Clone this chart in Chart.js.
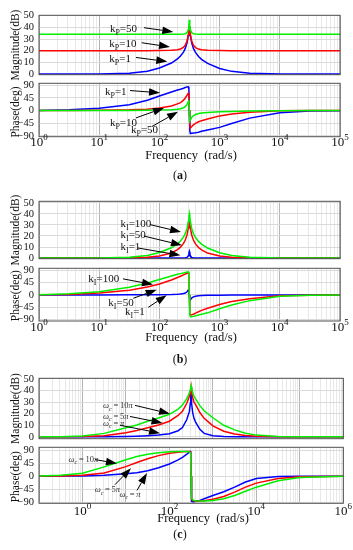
<!DOCTYPE html>
<html>
<head>
<meta charset="utf-8">
<script src="https://cdn.jsdelivr.net/npm/chart.js@4.4.0/dist/chart.umd.min.js"></script>
<style>
  html, body { margin: 0; padding: 0; background: #fff; }
  #page { position: relative; width: 353px; height: 550px; overflow: hidden; }
  canvas { position: absolute; left: 0; }
</style>
</head>
<body>
<div id="page">
  <canvas id="magA" width="353" height="82" style="top:4px"></canvas>
  <canvas id="phA" width="353" height="114" style="top:72px"></canvas>
  <canvas id="magB" width="353" height="80" style="top:190px"></canvas>
  <canvas id="phB" width="353" height="113" style="top:257px"></canvas>
  <canvas id="magC" width="353" height="83" style="top:367px"></canvas>
  <canvas id="phC" width="353" height="114" style="top:436px"></canvas>
</div>
<script>
// frequencies (rad/s) used for panels (a) and (b)
const freqAB = [1, 3.162, 10, 31.62, 63.1, 100, 158.5, 199.5, 223.9, 251.2, 269.2, 288.4, 302, 309, 314.2,
  320, 327, 343, 367, 398.1, 446.7, 501.2, 631, 1000, 1585, 3162, 10000, 31623, 100000];
// frequencies for panel (c)
const freqC = [0.1, 0.3162, 1, 3.162, 10, 17.78, 31.62, 56.23, 100, 158.5, 199.5, 251.2, 288.4, 302, 309, 314.2,
  320, 327, 343, 367, 398.1, 501.2, 631, 1000, 1778, 3162, 5623, 10000, 31623, 100000, 1000000];

// (a) kp varies
const magA_kp1  = [0, 0.01, 0.07, 0.68, 2.34, 5.2, 9.4, 12.9, 15.4, 18.8, 22, 27, 33, 37.5, 40, 37.2, 33, 27, 22, 18.5, 15, 12.6, 9.1, 4.8, 2.3, 0.66, 0.07, 0.01, 0];
const magA_kp10 = [20, 20, 20, 20.01, 20.04, 20.1, 20.36, 20.86, 21.47, 22.86, 24.69, 28.46, 34.06, 38.59, 41, 38.19, 33.97, 28.39, 24.68, 22.64, 21.36, 20.81, 20.35, 20.1, 20.04, 20.01, 20, 20, 20];
const magA_kp50 = [33.98, 33.98, 33.98, 33.98, 33.98, 33.99, 34.01, 34.04, 34.09, 34.24, 34.51, 35.44, 38.18, 41.58, 46.5, 41.25, 38.12, 35.42, 34.51, 34.21, 34.08, 34.04, 34.01, 33.99, 33.98, 33.98, 33.98, 33.98, 33.98];
const phA_kp1  = [0.6, 2.5, 8, 21, 37, 52, 66, 73, 76, 79.5, 82, 84.5, 85, 75, 0, -72, -82, -81, -80, -79, -77, -74, -69, -60, -46, -27, -7.5, -1.5, -0.3];
const phA_kp10 = [0.1, 0.3, 1, 2.5, 5, 9, 16, 24, 28, 37, 45, 55, 62, 52, 0, -50, -62, -58, -51, -46, -40, -36, -30, -19, -12, -6, -1, -0.2, 0];
const phA_kp50 = [0, 0.05, 0.15, 0.5, 1, 1.7, 3.2, 5, 6.7, 10, 14, 22, 32, 38, 0, -37, -33, -25, -18.5, -14, -10.5, -8.5, -6.5, -4.5, -3, -1.5, -0.4, -0.1, 0];

// (b) ki varies
const magB_ki100 = [0, 0.01, 0.07, 0.68, 2.34, 5, 9.3, 12.9, 15.4, 18.9, 22.1, 27.1, 33.2, 37.8, 40.3, 37.4, 33.1, 27, 22.2, 18.6, 15.1, 12.6, 9.1, 4.75, 2.3, 0.66, 0.07, 0.01, 0];
const magB_ki50  = [0, 0, 0.02, 0.18, 0.73, 1.9, 4.6, 7.6, 9.9, 13.25, 16.35, 21.2, 27.3, 31.9, 34, 31.5, 27.2, 21.1, 16.3, 12.8, 9.5, 7.35, 4.5, 1.8, 0.7, 0.18, 0.02, 0, 0];
const magB_ki1   = [0, 0, 0, 0, 0, 0, 0.01, 0.02, 0.04, 0.1, 0.21, 0.61, 2.07, 4.44, 6.02, 4.19, 2.04, 0.6, 0.2, 0.09, 0.04, 0.02, 0.01, 0, 0, 0, 0, 0, 0];
const phB_ki100 = [1, 4, 12, 28, 44, 57, 70, 76, 78.5, 81, 83, 84.5, 85, 78, 0, -72, -80, -80, -79, -77, -74, -71, -66, -51, -37, -21, -5, -1, -0.2];
const phB_ki50  = [0.5, 2, 7, 17, 29, 40, 55, 64, 69, 74, 77, 80, 82, 74, 0, -65, -74, -73, -71, -67, -62, -57, -49, -35, -24, -14, -3, -0.8, -0.2];
const phB_ki1   = [0, 0.04, 0.13, 0.4, 0.5, 0.8, 1.5, 2.4, 3.3, 5, 7.1, 11.7, 18.5, 19, 0, -18, -18.4, -11.6, -7.1, -4.7, -3.2, -2.4, -1.5, -0.8, -0.5, -0.2, -0.07, 0, 0];

// (c) wc varies
const magC_10pi = [0, 0.1, 0.8, 3, 7.8, 10.3, 13.5, 16.3, 19.5, 24, 27.5, 33, 38, 41, 42.8, 44, 43, 41.5, 38.5, 35, 33, 27, 22.5, 16.5, 10, 6, 3.2, 1.5, 0.3, 0.05, 0];
const magC_5pi  = [0, 0, 0.2, 1, 3.5, 5.5, 7.8, 10.3, 13.5, 18.5, 22, 29, 35, 38.5, 41, 43, 41, 38, 34, 30, 28, 21, 16, 9.5, 4.8, 2.5, 1.2, 0.5, 0.1, 0, 0];
const magC_pi   = [0, 0, 0, 0, 0.3, 0.5, 0.9, 1.5, 2.7, 5.3, 8, 15, 22, 29, 35, 42, 35, 29, 21, 16, 13, 6.5, 3, 1, 0.4, 0.1, 0, 0, 0, 0, 0];
const phC_10pi = [0.5, 3, 10, 32, 57, 68, 76, 81, 84, 85, 85, 85, 84, 81, 74, 0, -65, -76, -81, -84, -85, -86, -86, -84, -78, -67, -52, -38, -16, -5, -0.5];
const phC_5pi  = [0.2, 1, 3.5, 11, 33, 47, 60, 71, 79, 83, 84, 85, 85, 84, 79, 0, -68, -80, -84, -86, -86, -86, -85, -80, -70, -55, -38, -24, -8, -2, 0];
const phC_pi   = [0, 0.2, 1, 3, 8, 12, 19, 29, 42, 56, 65, 76, 83, 86, 87, 0, -82, -87, -88, -88, -87, -84, -78, -67, -54, -38, -20, -8, -1, 0, 0];

const magTicks = [0, 10, 20, 30, 40, 50];
const phaseTicks = [-90, -45, 0, 45, 90];

const GREEN = '#00f000', RED = '#ff0000', BLUE = '#0000ff';
const SERIF = '"Liberation Serif", "Times New Roman", serif';

function pts(freq, vals) {
  return freq.map((f, i) => ({ x: f, y: vals[i] }));
}

// grid ticks for a log axis: decades are major, 2..9 are minor
function logTicks(e0, e1) {
  const t = [];
  for (let e = e0; e <= e1; e++) {
    for (let m = 1; m <= 9; m++) {
      if (e === e1 && m > 1) break;
      t.push({ value: m * Math.pow(10, e), major: m === 1 });
    }
  }
  return t;
}

// text with subscripts / italics, parts = [[str, style]], style: n, s, i, is
function richText(ctx, parts, x, y, size, color) {
  ctx.fillStyle = color;
  ctx.textAlign = 'left';
  ctx.textBaseline = 'alphabetic';
  const base = y + size * 0.35;
  let cx = x;
  parts.forEach(([str, st]) => {
    st = st || 'n';
    const sub = st.indexOf('s') >= 0;
    const it = st.indexOf('i') >= 0;
    const sz = sub ? size * 0.72 : size;
    ctx.font = (it ? 'italic ' : '') + sz + 'px ' + SERIF;
    ctx.fillText(str, cx, base + (sub ? size * 0.28 : 0));
    cx += ctx.measureText(str).width;
  });
}

function arrow(ctx, x1, y1, x2, y2) {
  const ang = Math.atan2(y2 - y1, x2 - x1);
  const len = 11, hw = 3.8;
  const bx = x2 - len * Math.cos(ang), by = y2 - len * Math.sin(ang);
  ctx.strokeStyle = '#000';
  ctx.lineWidth = 1;
  ctx.beginPath();
  ctx.moveTo(x1, y1);
  ctx.lineTo(bx, by);
  ctx.stroke();
  ctx.fillStyle = '#000';
  ctx.beginPath();
  ctx.moveTo(x2, y2);
  ctx.lineTo(bx + hw * Math.sin(ang), by - hw * Math.cos(ang));
  ctx.lineTo(bx - hw * Math.sin(ang), by + hw * Math.cos(ang));
  ctx.closePath();
  ctx.fill();
}

const decor = {
  id: 'decor',
  afterDraw(chart, args, o) {
    const { ctx, chartArea: a } = chart;
    const xs = chart.scales.x, ys = chart.scales.y;
    const px = e => xs.getPixelForValue(Math.pow(10, e));
    ctx.save();
    // box round the plot
    ctx.strokeStyle = '#505050';
    ctx.lineWidth = 1;
    ctx.strokeRect(a.left, a.top, a.right - a.left, a.bottom - a.top);

    // y title
    ctx.save();
    ctx.fillStyle = '#111';
    ctx.font = '11.5px ' + SERIF;
    ctx.textAlign = 'center';
    ctx.textBaseline = 'middle';
    ctx.translate(16, (a.top + a.bottom) / 2 + (o.titleDy || 0));
    ctx.rotate(-Math.PI / 2);
    ctx.fillText(o.title, 0, 0);
    ctx.restore();

    // arrows and labels
    (o.notes || []).forEach(n => {
      richText(ctx, n.parts, px(n.at[0]), ys.getPixelForValue(n.at[1]), o.noteSize, o.noteColor);
      arrow(ctx, px(n.from[0]), ys.getPixelForValue(n.from[1]), px(n.to[0]), ys.getPixelForValue(n.to[1]));
    });

    // x tick labels 10^n
    if (o.xExps) {
      ctx.fillStyle = '#111';
      ctx.textBaseline = 'alphabetic';
      ctx.textAlign = 'left';
      o.xExps.forEach(e => {
        ctx.font = '13px ' + SERIF;
        const w1 = ctx.measureText('10').width;
        ctx.font = '9px ' + SERIF;
        const w2 = ctx.measureText(String(e)).width;
        const x0 = px(e) - (w1 + w2) / 2;
        const base = a.bottom + o.xLabelDy;
        ctx.font = '13px ' + SERIF;
        ctx.fillText('10', x0, base);
        ctx.font = '9px ' + SERIF;
        ctx.fillText(String(e), x0 + w1, base - 6);
      });
    }
    if (o.freq) {
      ctx.fillStyle = '#111';
      ctx.font = '12.5px ' + SERIF;
      ctx.textAlign = 'center';
      ctx.textBaseline = 'middle';
      ctx.fillText('Frequency  (rad/s)', o.freq[0], o.freq[1]);
    }
    if (o.letter) {
      ctx.fillStyle = '#111';
      ctx.textBaseline = 'middle';
      ctx.font = '12px ' + SERIF;
      const wl = ctx.measureText('(').width;
      ctx.font = 'bold 12px ' + SERIF;
      const wm = ctx.measureText(o.letter[0]).width;
      ctx.textAlign = 'left';
      const x0 = o.letter[1] - (2 * wl + wm) / 2;
      ctx.font = '12px ' + SERIF;
      ctx.fillText('(', x0, o.letter[2]);
      ctx.font = 'bold 12px ' + SERIF;
      ctx.fillText(o.letter[0], x0 + wl, o.letter[2]);
      ctx.font = '12px ' + SERIF;
      ctx.fillText(')', x0 + wl + wm, o.letter[2]);
    }
    ctx.restore();
  }
};

function makeChart(id, s) {
  return new Chart(document.getElementById(id), {
    type: 'line',
    data: {
      datasets: s.series.map(d => ({
        data: pts(s.freq, d[0]),
        borderColor: d[1],
        borderWidth: 1.5,
        pointRadius: 0,
        fill: false,
        tension: 0
      }))
    },
    options: {
      responsive: false,
      animation: false,
      events: [],
      layout: { padding: { left: 0, right: s.padRight, top: s.padTop, bottom: s.padBottom } },
      plugins: { legend: { display: false }, tooltip: { enabled: false }, decor: s.decor },
      scales: {
        x: {
          type: 'logarithmic',
          min: s.xMin,
          max: s.xMax,
          afterBuildTicks: sc => { sc.ticks = logTicks(s.e0, s.e1); },
          afterFit: sc => { sc.height = 0; },
          ticks: { display: false },
          grid: {
            drawTicks: false,
            color: c => (c.tick && c.tick.major) ? '#b4b4b4' : '#e8e8e8',
            lineWidth: 1
          },
          border: { display: false }
        },
        y: {
          min: s.yMin,
          max: s.yMax,
          afterBuildTicks: sc => { sc.ticks = s.yTicks.map(v => ({ value: v })); },
          afterFit: sc => { sc.width = 39; },
          ticks: {
            autoSkip: false,
            padding: 5,
            color: '#111',
            font: { family: SERIF, size: 10.5 },
            callback: v => v < 0 ? '\u2212' + Math.abs(v) : String(v)
          },
          grid: { drawTicks: false, color: '#dadada' },
          border: { display: false }
        }
      }
    },
    plugins: [decor]
  });
}

const kp = v => [['k'], ['P', 's'], ['=' + v]];
const ki = v => [['k'], ['I', 's'], ['=' + v]];
const wc = v => [['\u03c9', 'i'], ['c', 'is'], ['\u2009=\u2009' + v], ['\u03c0', 'i']];

// panel (a)
makeChart('magA', {
  freq: freqAB, xMin: 1, xMax: 1e5, e0: 0, e1: 5, padRight: 13, padTop: 10, padBottom: 8.7,
  yMin: -0.56, yMax: 50.3, yTicks: magTicks,
  series: [[magA_kp50, GREEN], [magA_kp10, RED], [magA_kp1, BLUE]],
  decor: {
    title: 'Magnitude(dB)', noteSize: 11, noteColor: '#111',
    notes: [
      { at: [1.179, 39.1], parts: kp(50), from: [1.744, 39.7], to: [2.231, 36.1] },
      { at: [1.168, 26.8], parts: kp(10), from: [1.706, 26.8], to: [2.176, 23.2] },
      { at: [1.168, 13.4], parts: kp(1), from: [1.611, 14.2], to: [2.131, 10.7] }
    ]
  }
});
makeChart('phA', {
  freq: freqAB, xMin: 1, xMax: 1e5, e0: 0, e1: 5, padRight: 13, padTop: 8.7, padBottom: 49.3,
  yMin: -93.2, yMax: 97.2, yTicks: phaseTicks,
  series: [[phA_kp50, GREEN], [phA_kp10, RED], [phA_kp1, BLUE]],
  decor: {
    title: 'Phase(deg)', titleDy: 2, noteSize: 11, noteColor: '#111',
    notes: [
      { at: [1.096, 68], parts: kp(1), from: [1.512, 71.4], to: [2.010, 63.3] },
      { at: [1.179, -39.8], parts: kp(10), from: [1.611, -26.2], to: [2.076, 9.5] },
      { at: [1.528, -65.3], parts: kp(50), from: [1.877, -56.8], to: [2.309, -4.1] }
    ],
    xExps: [0, 1, 2, 3, 4, 5], xLabelDy: 9.5, freq: [191, 84], letter: ['a', 180, 104]
  }
});

// panel (b)
makeChart('magB', {
  freq: freqAB, xMin: 1, xMax: 1e5, e0: 0, e1: 5, padRight: 13, padTop: 10, padBottom: 7.3,
  yMin: -0.58, yMax: 51.4, yTicks: magTicks,
  series: [[magB_ki100, GREEN], [magB_ki50, RED], [magB_ki1, BLUE]],
  decor: {
    title: 'Magnitude(dB)', noteSize: 11, noteColor: '#111',
    notes: [
      { at: [1.354, 31.9], parts: ki(100), from: [1.844, 30.3], to: [2.359, 23.6] },
      { at: [1.354, 21.6], parts: ki(50), from: [1.744, 19.9], to: [2.375, 11.6] },
      { at: [1.354, 10.8], parts: ki(1), from: [1.645, 9.1], to: [2.350, 2.5] }
    ]
  }
});
makeChart('phB', {
  freq: freqAB, xMin: 1, xMax: 1e5, e0: 0, e1: 5, padRight: 13, padTop: 9, padBottom: 49,
  yMin: -96, yMax: 98.1, yTicks: phaseTicks,
  series: [[phB_ki100, GREEN], [phB_ki50, RED], [phB_ki1, BLUE]],
  decor: {
    title: 'Phase(deg)', titleDy: 1, noteSize: 11, noteColor: '#111',
    notes: [
      { at: [0.819, 60.4], parts: ki(100), from: [1.395, 59.3], to: [1.894, 38.1] },
      { at: [1.151, -27.9], parts: ki(50), from: [1.566, -12.4], to: [1.955, 19.4] },
      { at: [1.429, -59.7], parts: ki(1), from: [1.816, -45.5], to: [2.121, -0.7] }
    ],
    xExps: [0, 1, 2, 3, 4, 5], xLabelDy: 10, freq: [191, 80.7], letter: ['b', 180, 103]
  }
});

// panel (c)
makeChart('magC', {
  freq: freqC, xMin: 0.1, xMax: 1e6, e0: -1, e1: 6, padRight: 9.7, padTop: 9.7, padBottom: 8,
  yMin: -1.6, yMax: 50.6, yTicks: magTicks,
  series: [[magC_10pi, GREEN], [magC_5pi, RED], [magC_pi, BLUE]],
  decor: {
    title: 'Magnitude(dB)', noteSize: 8.5, noteColor: '#333',
    notes: [
      { at: [0.472, 27.2], parts: wc('10'), from: [1.208, 27.2], to: [2.014, 20] },
      { at: [0.472, 18.4], parts: wc('5'), from: [1.093, 17.6], to: [1.841, 12] },
      { at: [0.472, 12], parts: wc(''), from: [0.863, 10], to: [1.784, 3.2] }
    ]
  }
});
makeChart('phC', {
  freq: freqC, xMin: 0.1, xMax: 1e6, e0: -1, e1: 6, padRight: 9.7, padTop: 9.3, padBottom: 46.7,
  yMin: -93.7, yMax: 99.7, yTicks: phaseTicks,
  series: [[phC_10pi, GREEN], [phC_5pi, RED], [phC_pi, BLUE]],
  decor: {
    title: 'Phase(deg)', titleDy: 1.5, noteSize: 8.5, noteColor: '#333',
    notes: [
      { at: [-0.321, 60.7], parts: wc('10'), from: [0.288, 57.3], to: [0.794, 44] },
      { at: [0.28, -46], parts: wc('5'), from: [0.748, -29.3], to: [1.116, 27.3] },
      { at: [0.85, -61], parts: wc(''), from: [1.254, -49.3], to: [1.484, 10.7] }
    ],
    xExps: [0, 2, 4, 6], xLabelDy: 12, freq: [203, 83], letter: ['c', 180, 99]
  }
});
</script>
</body>
</html>
